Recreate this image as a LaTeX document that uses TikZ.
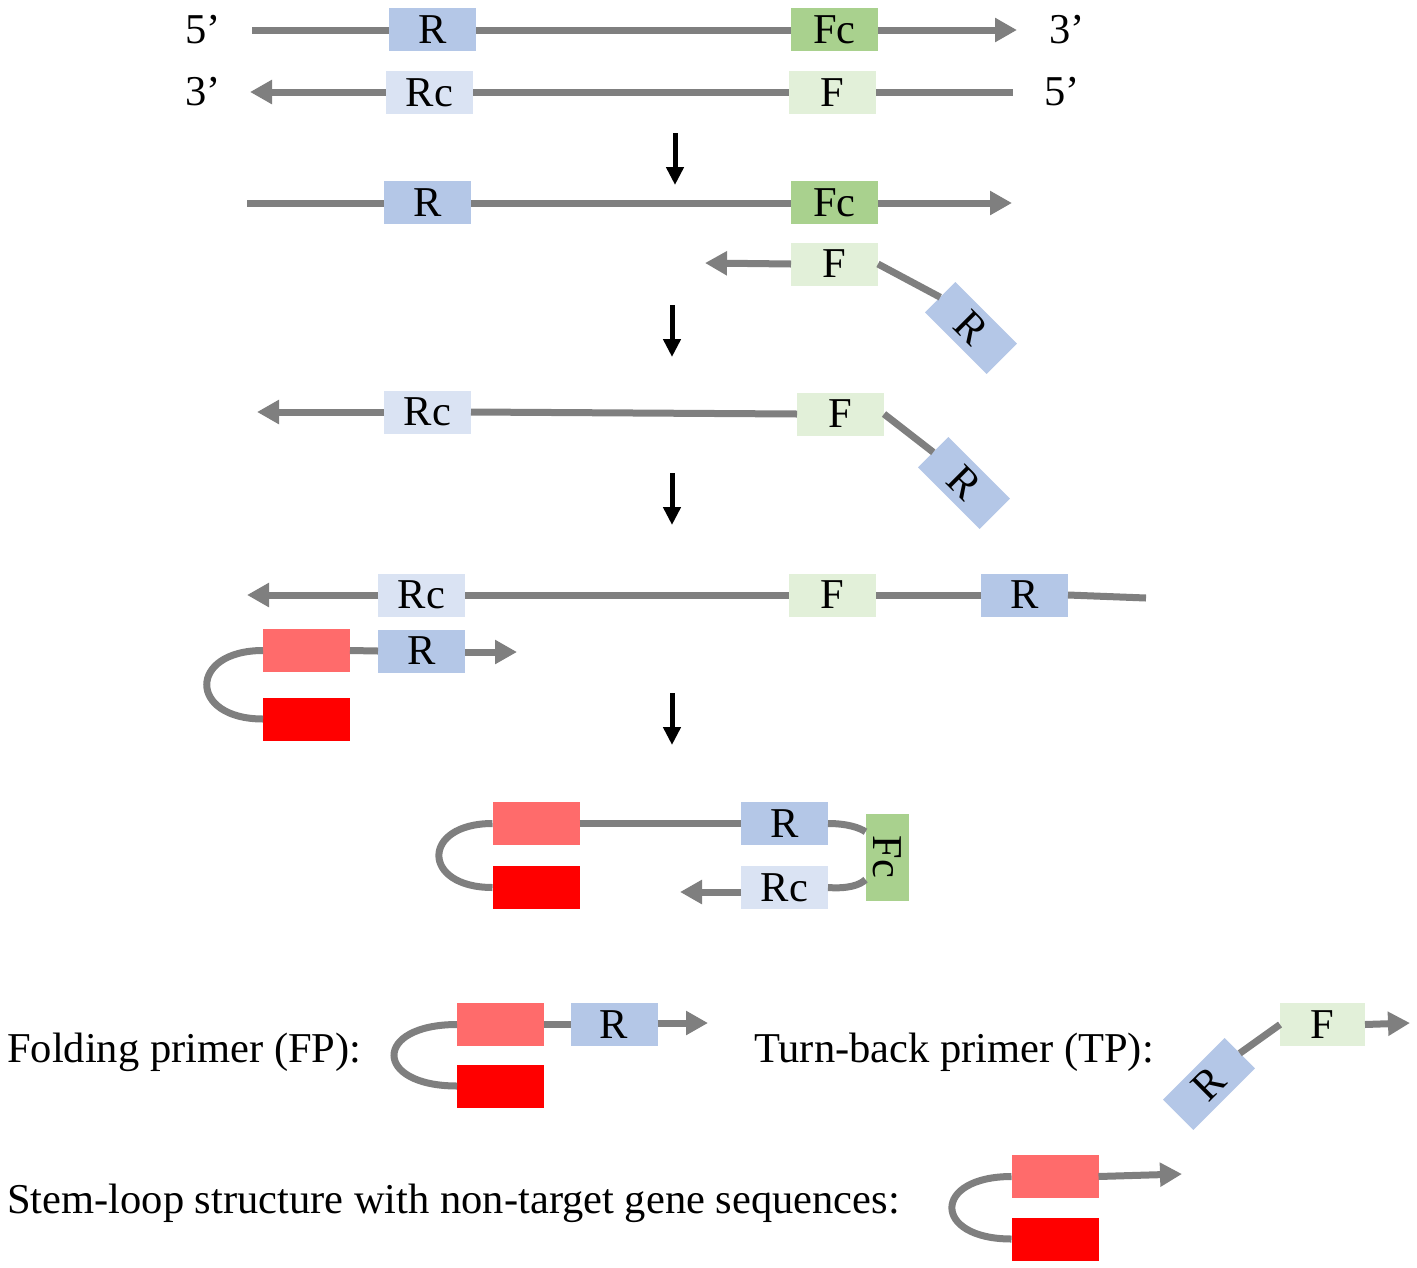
\documentclass[tikz,border=0pt]{standalone}
\usepackage{fontspec}
\setmainfont{Liberation Serif}
\usetikzlibrary{arrows.meta,calc}
\definecolor{strandgray}{HTML}{7F7F7F}
\definecolor{rblue}{HTML}{B4C7E7}
\definecolor{rcblue}{HTML}{DAE3F3}
\definecolor{fcgreen}{HTML}{A9D18E}
\definecolor{fgreen}{HTML}{E2F0D9}
\definecolor{pinkstem}{HTML}{FF6B6B}
\definecolor{redstem}{HTML}{FF0000}
\tikzset{
  seg/.style={minimum width=87pt, minimum height=43pt, inner sep=0pt, outer sep=0pt, font=\fontsize{42.5}{50}\selectfont},
  rbox/.style={seg, fill=rblue},
  rcbox/.style={seg, fill=rcblue},
  fcbox/.style={seg, fill=fcgreen},
  fbox/.style={seg, fill=fgreen},
  pbox/.style={seg, fill=pinkstem},
  dbox/.style={seg, fill=redstem},
  strand/.style={draw=strandgray, line width=7pt},
  strandarrow/.style={strand, -{Triangle[length=22pt,width=23pt]}},
  steparrow/.style={draw=black, line width=5pt, -{Triangle[length=18pt,width=17pt]}},
  lbl/.style={inner sep=0pt, font=\fontsize{42.5}{50}\selectfont},
}
\begin{document}
\begin{tikzpicture}[x=1pt,y=-1pt]
\useasboundingbox (0,0) rectangle (1417,1267);
% ---------- Row 1 / 2 ----------
\node[lbl] (l5a) at (203,30) {5’};
\node[lbl] (l3a) at (1067,30) {3’};
\node[lbl] (l3b) at (203,92) {3’};
\node[lbl] (l5b) at (1062,92) {5’};
\coordinate (s1) at (252,30);
\coordinate (e1) at (1017,30);
\coordinate (e2) at (250,92);
\coordinate (s2) at (1013,92);
\draw[strand] (s1) -- (432.5,30);
\draw[strandarrow] (432.5,30) -- (e1);
\draw[strandarrow] (832,92) -- (e2);
\draw[strand] (832,92) -- (s2);
\node[rbox] (R1) at (432.5,29.5) {R};
\node[fcbox] (Fc1) at (834.5,29.5) {Fc};
\node[rcbox] (Rc2) at (429.5,92.5) {Rc};
\node[fbox] (F2) at (832,92.5) {F};
% step arrow 1
\coordinate (a1s) at (675,133); \coordinate (a1e) at (675,185);
\draw[steparrow] (a1s) -- (a1e);
% ---------- Row 3 / 4 ----------
\coordinate (s3) at (247,203);
\coordinate (e3) at (1012,203);
\draw[strandarrow] (s3) -- (e3);
\node[rbox] (R3) at (427.5,202.5) {R};
\node[fcbox] (Fc3) at (834.5,202.5) {Fc};
\node[fbox] (F4) at (834.5,264) {F};
\node[rbox, rotate=-45] (R4) at (971,328) {R};
\coordinate (e4) at (705,263);
\draw[strandarrow] (F4.west) -- (e4);
\draw[strand] (F4.east) -- (R4.west);
% step arrow 2
\coordinate (a2s) at (672,305); \coordinate (a2e) at (672,357);
\draw[steparrow] (a2s) -- (a2e);
% ---------- Row 5 ----------
\node[rcbox] (Rc5) at (427.5,412) {Rc};
\node[fbox] (F5) at (840.5,414) {F};
\node[rbox, rotate=-45] (R5) at (964,483) {R};
\coordinate (e5) at (257,412);
\draw[strandarrow] (Rc5.west) -- (e5);
\draw[strand] (Rc5.east) -- (F5.west);
\draw[strand] (F5.east) -- (R5.west);
% step arrow 3
\coordinate (a3s) at (672,473); \coordinate (a3e) at (672,525);
\draw[steparrow] (a3s) -- (a3e);
% ---------- Row 6 / 7 ----------
\node[rcbox] (Rc6) at (421.5,595) {Rc};
\node[fbox] (F6) at (832.5,595) {F};
\node[rbox] (R6) at (1024.5,595) {R};
\coordinate (e6) at (247,595);
\coordinate (s6) at (1146,598);
\draw[strandarrow] (Rc6.west) -- (e6);
\draw[strand] (Rc6.east) -- (F6.west);
\draw[strand] (F6.east) -- (R6.west);
\draw[strand] (R6.east) -- (s6);
\node[pbox] (P7) at (306.5,650.5) {};
\node[dbox] (D7) at (306.5,719) {};
\node[rbox] (R7) at (421.5,651) {R};
\coordinate (e7) at (517,652);
\draw[strand] (P7.east) -- (R7.west);
\draw[strandarrow] (R7.east |- e7) -- (e7);
\draw[strand] (P7.west) .. controls (188,650.5) and (188,719) .. (D7.west);
% step arrow 4
\coordinate (a4s) at (672,693); \coordinate (a4e) at (672,745);
\draw[steparrow] (a4s) -- (a4e);
% ---------- Row 8 ----------
\node[pbox] (P8) at (536,823.5) {};
\node[dbox] (D8) at (536,887.5) {};
\node[rbox] (R8) at (784.5,823.5) {R};
\node[rcbox] (Rc8) at (784.5,887.5) {Rc};
\node[fcbox, rotate=-90] (Fc8) at (887,857) {Fc};
\coordinate (e8) at (680,892);
\draw[strand] (P8.east) -- (R8.west);
\draw[strandarrow] (Rc8.west |- e8) -- (e8);
\draw[strand] (P8.west) .. controls (421,823.5) and (421,887.5) .. (D8.west);
\draw[strand] (R8.east) .. controls (848,823.5) and (860,828) .. ($(Fc8.south west)!0.21!(Fc8.south east)$);
\draw[strand] ($(Fc8.south west)!0.76!(Fc8.south east)$) .. controls (860,885) and (848,889) .. (Rc8.east);
% ---------- Legend ----------
\node[lbl, anchor=base west] (tFP) at (7,1062) {Folding primer (FP):};
\node[pbox] (P9) at (500.5,1024.5) {};
\node[dbox] (D9) at (500.5,1086) {};
\node[rbox] (R9) at (614,1024.5) {R};
\coordinate (e9) at (708,1023);
\draw[strand] (P9.east) -- (R9.west);
\draw[strandarrow] (R9.east |- e9) -- (e9);
\draw[strand] (P9.west) .. controls (373,1024.5) and (373,1086) .. (D9.west);

\node[lbl, anchor=base west] (tTP) at (754,1062) {Turn-back primer (TP):};
\node[fbox, minimum width=85pt] (F10) at (1322.5,1024.5) {F};
\node[rbox, rotate=45] (R10) at (1209,1084) {R};
\coordinate (e10) at (1410,1023);
\draw[strandarrow] (F10.east) -- (e10);
\draw[strand] (R10.east) -- (F10.west);

\node[lbl, anchor=base west] (tSL) at (7,1213) {Stem-loop structure with non-target gene sequences:};
\node[pbox] (P11) at (1055,1176.5) {};
\node[dbox] (D11) at (1055,1239) {};
\coordinate (e11) at (1182,1174);
\draw[strandarrow] (P11.east) -- (e11);
\draw[strand] (P11.west) .. controls (932,1176.5) and (932,1239) .. (D11.west);
\end{tikzpicture}
\end{document}
